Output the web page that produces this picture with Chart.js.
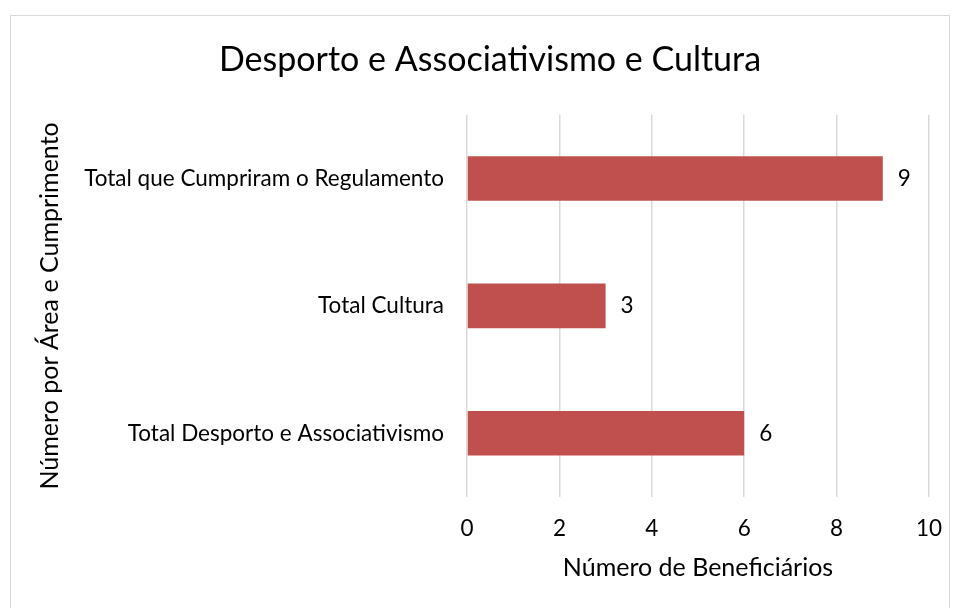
<!DOCTYPE html>
<html><head><meta charset="utf-8">
<script src="https://cdn.jsdelivr.net/npm/chart.js@4/dist/chart.umd.min.js"></script>
<style>
html,body{margin:0;padding:0;background:#fff;}
#frame{position:absolute;left:10px;top:15px;width:940px;height:600px;border:1.5px solid #d9d9d9;box-sizing:border-box;}
#wrap{position:absolute;left:0;top:0;width:957px;height:608px;}
</style></head>
<body>
<div id="frame"></div>
<div id="wrap"><canvas id="c" width="957" height="608"></canvas></div>
<script>
const categories = ["Total que Cumpriram o Regulamento", "Total Cultura", "Total Desporto e Associativismo"];
const values = [9, 3, 6];
const xTicks = [0, 2, 4, 6, 8, 10];
const chartTitle = "Desporto e Associativismo e Cultura";
const xTitle = "Número de Beneficiários";
const yTitle = "Número por Área e Cumprimento";

const FONT = "Lato, 'Open Sans', sans-serif";

const dataLabels = {
  id: 'dataLabels',
  afterDatasetsDraw(chart) {
    const ctx = chart.ctx;
    const meta = chart.getDatasetMeta(0);
    ctx.save();
    ctx.font = "22.5px " + FONT;
    ctx.fillStyle = "#000";
    ctx.textAlign = "left";
    ctx.textBaseline = "middle";
    meta.data.forEach((bar, i) => {
      ctx.fillText(String(values[i]), bar.x + 15, bar.y);
    });
    ctx.restore();
  }
};

new Chart(document.getElementById('c'), {
  type: 'bar',
  data: {
    labels: categories,
    datasets: [{
      data: values,
      backgroundColor: '#C0504D',
      borderWidth: 0,
      categoryPercentage: 1,
      barPercentage: 0.35
    }]
  },
  options: {
    indexAxis: 'y',
    responsive: false,
    animation: false,
    devicePixelRatio: 1,
    layout: { padding: { left: 35, right: 12, top: 0, bottom: 25 } },
    plugins: {
      legend: { display: false },
      tooltip: { enabled: false },
      title: {
        display: true,
        text: chartTitle,
        color: '#000',
        font: { family: FONT, size: 34, weight: 'normal' },
        padding: { top: 40, bottom: 34 }
      }
    },
    scales: {
      x: {
        min: 0, max: 10,
        afterBuildTicks(scale) { scale.ticks = xTicks.map(v => ({ value: v })); },
        grid: { color: '#d9d9d9', lineWidth: 1.5, drawTicks: false },
        border: { display: false },
        ticks: { color: '#000', font: { family: FONT, size: 22.5 }, padding: 18 },
        title: { display: true, text: xTitle, color: '#000', font: { family: FONT, size: 25 }, padding: 0 },
        afterFit(scale) { scale.height = 86; scale.paddingRight = 28; }
      },
      y: {
        grid: { display: false, drawTicks: false },
        border: { display: false },
        ticks: { color: '#000', font: { family: FONT, size: 22.5 }, padding: 23 },
        title: { display: true, text: yTitle, color: '#000', font: { family: FONT, size: 25 }, padding: 0 },
        afterFit(scale) { scale.width = 432; }
      }
    }
  },
  plugins: [dataLabels]
});
</script>
</body></html>
